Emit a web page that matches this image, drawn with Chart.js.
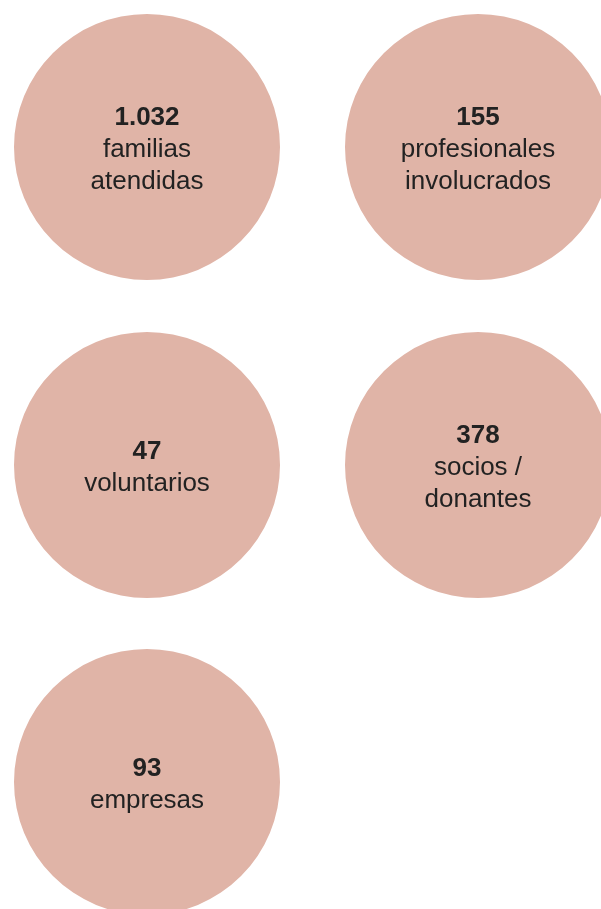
<!DOCTYPE html>
<html>
<head>
<meta charset="utf-8">
<script src="https://cdn.jsdelivr.net/npm/chart.js@4.4.1/dist/chart.umd.min.js"></script>
<style>
  html, body {
    margin: 0;
    padding: 0;
    width: 601px;
    height: 909px;
    overflow: hidden;
    background: #ffffff;
    font-family: "Liberation Sans", Arial, Helvetica, sans-serif;
  }
  .bubble {
    position: absolute;
    width: 266px;
    height: 266px;
  }
  #b1 { left: 14px; top: 14px; }
  #b2 { left: 345px; top: 14px; }
  #b3 { left: 14px; top: 332px; }
  #b4 { left: 345px; top: 332px; }
  #b5 { left: 14px; top: 649px; }
  .preload { position: absolute; left: -999px; top: 0; font-size: 26px; }
</style>
</head>
<body>
<div class="preload">Aa <b>Bb</b></div>
<div class="bubble" id="b1"><canvas id="c1"></canvas></div>
<div class="bubble" id="b2"><canvas id="c2"></canvas></div>
<div class="bubble" id="b3"><canvas id="c3"></canvas></div>
<div class="bubble" id="b4"><canvas id="c4"></canvas></div>
<div class="bubble" id="b5"><canvas id="c5"></canvas></div>
<script>
// Data ===========================================
const figures = ["1.032", "155", "47", "378", "93"];
const values = [1032, 155, 47, 378, 93];
const captions = [
  ["familias", "atendidas"],
  ["profesionales", "involucrados"],
  ["voluntarios"],
  ["socios /", "donantes"],
  ["empresas"],
];

const circleColor = "#e0b4a7";
const textColor = "#222222";
const fontName = '"Liberation Sans", Arial, Helvetica, sans-serif';

// Text in the middle of each circle ==============
function centerText(i) {
  return {
    id: "centerText" + i,
    afterDraw(chart) {
      const { ctx } = chart;
      const arc = chart.getDatasetMeta(0).data[0];
      const x = arc.x;
      const y = arc.y;
      const lines = [figures[i]].concat(captions[i]);
      const n = lines.length;
      ctx.save();
      ctx.fillStyle = textColor;
      ctx.textAlign = "center";
      ctx.textBaseline = "alphabetic";
      for (let k = 0; k < n; k++) {
        ctx.font = (k === 0 ? "bold " : "") + "26px " + fontName;
        ctx.fillText(lines[k], x, y + 10 + (k - (n - 1) / 2) * 32);
      }
      ctx.restore();
    },
  };
}

// Charts ==========================================
function drawAll() {
  for (let i = 0; i < values.length; i++) {
    new Chart(document.getElementById("c" + (i + 1)), {
      type: "pie",
      data: {
        labels: [captions[i].join(" ")],
        datasets: [
          {
            data: [values[i]],
            backgroundColor: [circleColor],
            borderWidth: 0,
          },
        ],
      },
      options: {
        responsive: true,
        maintainAspectRatio: false,
        animation: false,
        layout: { padding: 0 },
        plugins: {
          legend: { display: false },
          tooltip: { enabled: false },
        },
      },
      plugins: [centerText(i)],
    });
  }
}

Promise.all([
  document.fonts.load("26px " + fontName),
  document.fonts.load("bold 26px " + fontName),
]).then(drawAll, drawAll);
</script>
</body>
</html>
